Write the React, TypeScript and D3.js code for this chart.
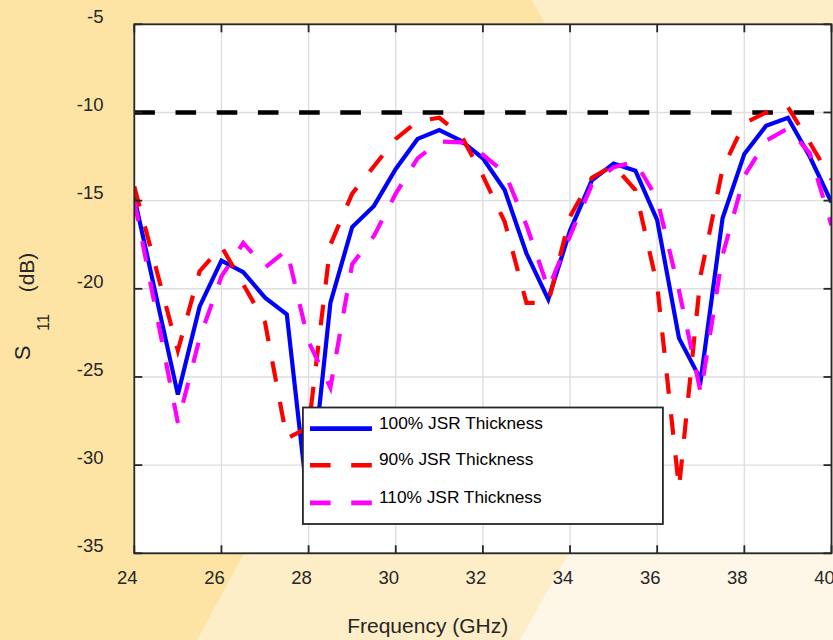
import * as d3 from "d3";

// frequency samples (GHz)
const freqGHz = [
  24, 24.5, 25, 25.5, 26, 26.5, 27, 27.5, 28, 28.5, 29, 29.5, 30, 30.5, 31, 31.5,
  32, 32.5, 33, 33.5, 34, 34.5, 35, 35.5, 36, 36.5, 37, 37.5, 38, 38.5, 39, 39.5, 40,
];

// S11 (dB), 100% JSR thickness
const s11Nominal = [
  -14.8, -20.4, -26.0, -21.0, -18.4, -19.05, -20.5, -21.45, -32.5, -20.8, -16.5, -15.3, -13.2, -11.5, -11.0, -11.6,
  -12.6, -14.4, -18.0, -20.6, -16.7, -13.85, -12.9, -13.3, -16.1, -22.8, -25.15, -16.0, -12.35, -10.75, -10.3, -12.5, -15.1,
];

// S11 (dB), 90% JSR thickness
const s11Thin = [
  -14.2, -18.85, -23.5, -19.0, -17.6, -19.75, -21.9, -28.5, -27.85, -17.5, -14.6, -13.05, -11.5, -10.5, -10.3, -11.3,
  -13.6, -16.2, -20.8, -20.8, -15.9, -13.7, -13.0, -14.4, -19.8, -31.3, -19.2, -13.2, -10.6, -10.0, -9.7, -11.7, -13.8,
];

// S11 (dB), 110% JSR thickness
const s11Thick = [
  -15.0, -21.3, -27.6, -22.8, -19.3, -17.4, -18.8, -17.8, -23.0, -25.6, -18.6, -17.0, -14.6, -12.6, -11.65, -11.7,
  -12.4, -13.4, -16.4, -20.0, -17.0, -14.1, -13.1, -12.8, -14.9, -20.1, -25.9, -18.1, -13.6, -11.6, -10.9, -12.3, -16.4,
];

const thresholdDb = -10;

const xTicks = [24, 26, 28, 30, 32, 34, 36, 38, 40];
const yTicks = [-35, -30, -25, -20, -15, -10, -5];

const seriesNames = ["100% JSR Thickness", "90% JSR Thickness", "110% JSR Thickness"];
const seriesColors = ["#0000ff", "#ff0000", "#ff00ff"];
const seriesDashed = [false, true, true];

const W = 833;
const H = 640;
const plot = { left: 134.3, right: 831.5, top: 24.3, bottom: 553.3 };
const font = "'Liberation Sans', Arial, Helvetica, sans-serif";
const axisColor = "#262626";
const dash = "20.6 20.6";

export default function App() {
  const x = d3.scaleLinear().domain([24, 40]).range([plot.left, plot.right]);
  const y = d3.scaleLinear().domain([-35, -5]).range([plot.bottom, plot.top]);

  const line = d3
    .line<number>()
    .x((_, i) => x(freqGHz[i]))
    .y((d) => y(d));

  const series = [s11Nominal, s11Thin, s11Thick];

  const leg = { x: 302.9, y: 407.5, w: 360, h: 116.5 };
  const legRows = [428.6, 465.3, 502.9];

  return (
    <svg
      width={W}
      height={H}
      style={{ position: "absolute", left: 0, top: 0, display: "block" }}
      fontFamily={font}
    >
      <defs>
        <clipPath id="plotClip">
          <rect x={plot.left} y={plot.top} width={plot.right - plot.left} height={plot.bottom - plot.top} />
        </clipPath>
      </defs>

      {/* background shapes */}
      <rect x={0} y={0} width={W} height={H} fill="#fde4a5" />
      <polygon points="532,0 833,0 833,640 197,640 300,450 545,24" fill="#feeec8" />
      <polygon points="520,640 600,498 833,498 833,640" fill="#fef6e6" />

      {/* plot area */}
      <rect x={plot.left} y={plot.top} width={plot.right - plot.left} height={plot.bottom - plot.top} fill="#fff" />

      {/* grid */}
      {xTicks.map((t) => (
        <line key={"gx" + t} x1={x(t)} x2={x(t)} y1={plot.top} y2={plot.bottom} stroke="#dedede" strokeWidth={1.4} />
      ))}
      {yTicks.map((t) => (
        <line key={"gy" + t} x1={plot.left} x2={plot.right} y1={y(t)} y2={y(t)} stroke="#dedede" strokeWidth={1.4} />
      ))}

      <g clipPath="url(#plotClip)">
        {/* -10 dB reference */}
        <line
          x1={x(24)}
          x2={x(40)}
          y1={y(thresholdDb)}
          y2={y(thresholdDb)}
          stroke="#000"
          strokeWidth={4.6}
          strokeDasharray={dash}
        />
        {series.map((s, i) => (
          <path
            key={seriesNames[i]}
            d={line(s) ?? ""}
            fill="none"
            stroke={seriesColors[i]}
            strokeWidth={4.2}
            strokeDasharray={seriesDashed[i] ? dash : undefined}
            strokeLinejoin="miter"
          />
        ))}
      </g>

      {/* axes box + inward ticks */}
      <rect
        x={plot.left}
        y={plot.top}
        width={plot.right - plot.left}
        height={plot.bottom - plot.top}
        fill="none"
        stroke={axisColor}
        strokeWidth={1.8}
      />
      {xTicks.map((t) => (
        <g key={"tx" + t} stroke={axisColor} strokeWidth={1.8}>
          <line x1={x(t)} x2={x(t)} y1={plot.bottom} y2={plot.bottom - 8} />
          <line x1={x(t)} x2={x(t)} y1={plot.top} y2={plot.top + 8} />
        </g>
      ))}
      {yTicks.map((t) => (
        <g key={"ty" + t} stroke={axisColor} strokeWidth={1.8}>
          <line x1={plot.left} x2={plot.left + 8} y1={y(t)} y2={y(t)} />
          <line x1={plot.right} x2={plot.right - 8} y1={y(t)} y2={y(t)} />
        </g>
      ))}

      {/* tick labels */}
      {xTicks.map((t) => (
        <text key={"lx" + t} x={x(t) - 7} y={584} textAnchor="middle" fontSize={18.5} fill={axisColor}>
          {t}
        </text>
      ))}
      {yTicks.map((t) => (
        <text key={"ly" + t} x={103.5} y={y(t) - 1.2} textAnchor="end" fontSize={18.5} fill={axisColor}>
          {t}
        </text>
      ))}

      {/* axis titles */}
      <text x={427.7} y={633.3} textAnchor="middle" fontSize={21} fill={axisColor}>
        Frequency (GHz)
      </text>
      <text transform="translate(30,353) rotate(-90)" textAnchor="middle" fontSize={22} fill={axisColor}>
        S
      </text>
      <text transform="translate(49.3,322.5) rotate(-90)" textAnchor="middle" fontSize={16.5} fill={axisColor}>
        11
      </text>
      <text transform="translate(33.6,272.5) rotate(-90)" textAnchor="middle" fontSize={21} fill={axisColor}>
        (dB)
      </text>

      {/* legend */}
      <rect x={leg.x} y={leg.y} width={leg.w} height={leg.h} fill="#fff" stroke={axisColor} strokeWidth={1.8} />
      {seriesNames.map((name, i) => (
        <g key={"lg" + name}>
          <line
            x1={310}
            x2={372}
            y1={legRows[i]}
            y2={legRows[i]}
            stroke={seriesColors[i]}
            strokeWidth={4.6}
            strokeDasharray={seriesDashed[i] ? dash : undefined}
          />
          <text x={379} y={legRows[i]} fontSize={17.3} fill="#000">
            {name}
          </text>
        </g>
      ))}
    </svg>
  );
}
